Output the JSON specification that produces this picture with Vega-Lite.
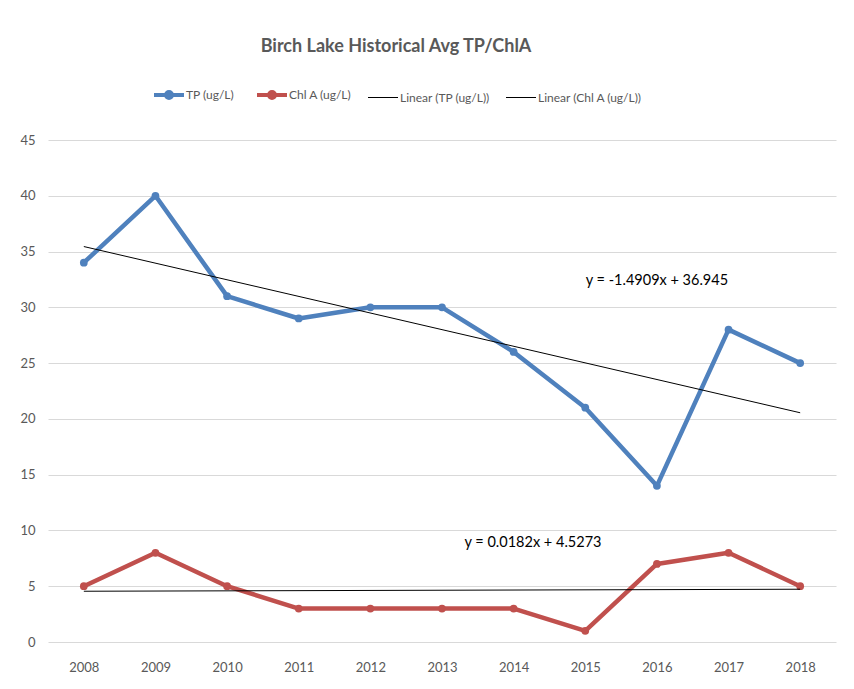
{
  "$schema": "https://vega.github.io/schema/vega-lite/v6.json",
  "width": 788,
  "height": 502,
  "autosize": "none",
  "padding": {"left": 48, "top": 140, "right": 18, "bottom": 47},
  "background": "white",
  "title": {
    "text": "Birch Lake Historical Avg TP/ChlA",
    "font": "Lato",
    "fontSize": 18,
    "fontWeight": "bold",
    "color": "#595959",
    "offset": 33,
    "dx": -46
  },
  "config": {
    "view": {"stroke": null},
    "font": "Lato"
  },
  "datasets": {
    "obs": [
      {"year": 2008, "series": "TP (ug/L)", "value": 34},
      {"year": 2009, "series": "TP (ug/L)", "value": 40},
      {"year": 2010, "series": "TP (ug/L)", "value": 31},
      {"year": 2011, "series": "TP (ug/L)", "value": 29},
      {"year": 2012, "series": "TP (ug/L)", "value": 30},
      {"year": 2013, "series": "TP (ug/L)", "value": 30},
      {"year": 2014, "series": "TP (ug/L)", "value": 26},
      {"year": 2015, "series": "TP (ug/L)", "value": 21},
      {"year": 2016, "series": "TP (ug/L)", "value": 14},
      {"year": 2017, "series": "TP (ug/L)", "value": 28},
      {"year": 2018, "series": "TP (ug/L)", "value": 25},
      {"year": 2008, "series": "Chl A (ug/L)", "value": 5},
      {"year": 2009, "series": "Chl A (ug/L)", "value": 8},
      {"year": 2010, "series": "Chl A (ug/L)", "value": 5},
      {"year": 2011, "series": "Chl A (ug/L)", "value": 3},
      {"year": 2012, "series": "Chl A (ug/L)", "value": 3},
      {"year": 2013, "series": "Chl A (ug/L)", "value": 3},
      {"year": 2014, "series": "Chl A (ug/L)", "value": 3},
      {"year": 2015, "series": "Chl A (ug/L)", "value": 1},
      {"year": 2016, "series": "Chl A (ug/L)", "value": 7},
      {"year": 2017, "series": "Chl A (ug/L)", "value": 8},
      {"year": 2018, "series": "Chl A (ug/L)", "value": 5}
    ],
    "trend": [
      {"year": 2008, "series": "Linear (TP (ug/L))", "value": 35.45},
      {"year": 2018, "series": "Linear (TP (ug/L))", "value": 20.55},
      {"year": 2008, "series": "Linear (Chl A (ug/L))", "value": 4.55},
      {"year": 2018, "series": "Linear (Chl A (ug/L))", "value": 4.73}
    ],
    "labels": [
      {"year": 2016.0, "value": 32.36, "text": "y = -1.4909x + 36.945"},
      {"year": 2014.27, "value": 8.87, "text": "y = 0.0182x + 4.5273"}
    ]
  },
  "layer": [
    {
      "data": {"name": "obs"},
      "mark": {"type": "line", "strokeWidth": 4.5, "strokeJoin": "round"},
      "encoding": {
        "x": {
          "field": "year", "type": "quantitative",
          "scale": {"domain": [2007.5, 2018.5], "nice": false, "zero": false},
          "axis": {
            "values": [2008, 2009, 2010, 2011, 2012, 2013, 2014, 2015, 2016, 2017, 2018],
            "format": "d", "title": null, "grid": false, "ticks": false, "domain": false,
            "labelFontSize": 13, "labelColor": "#595959", "labelPadding": 19,
            "labelFont": "Lato"
          }
        },
        "y": {
          "field": "value", "type": "quantitative",
          "scale": {"domain": [0, 45], "nice": false},
          "axis": {
            "values": [0, 5, 10, 15, 20, 25, 30, 35, 40, 45],
            "title": null, "grid": true, "gridColor": "#d9d9d9", "gridWidth": 1,
            "ticks": false, "domain": false,
            "labelFontSize": 13, "labelColor": "#595959", "labelPadding": 13,
            "labelFont": "Lato"
          }
        },
        "color": {
          "field": "series", "type": "nominal",
          "scale": {
            "domain": ["TP (ug/L)", "Chl A (ug/L)", "Linear (TP (ug/L))", "Linear (Chl A (ug/L))"],
            "range": ["#4f81bd", "#c0504d", "#000000", "#000000"]
          },
          "legend": {
            "orient": "none",
            "legendX": 115,
            "legendY": -51,
            "direction": "horizontal",
            "title": null,
            "labelFontSize": 12,
            "labelColor": "#595959",
            "labelFont": "Lato",
            "symbolSize": 900,
            "labelOffset": 11,
            "columnPadding": 14,
            "encode": {
              "symbols": {
                "update": {
                  "shape": {"signal": "indexof(['TP (ug/L)','Chl A (ug/L)'], datum.value) >= 0 ? 'M-1,0L1,0M0.2,0A0.2,0.2,0,1,1,-0.2,0A0.2,0.2,0,1,1,0.2,0Z' : 'M-1,0L1,0'"},
                  "strokeWidth": {"signal": "indexof(['TP (ug/L)','Chl A (ug/L)'], datum.value) >= 0 ? 4 : 1"},
                  "fill": {"signal": "indexof(['TP (ug/L)','Chl A (ug/L)'], datum.value) >= 0 ? scale('color', datum.value) : 'transparent'"},
                  "stroke": {"signal": "scale('color', datum.value)"}
                }
              }
            }
          }
        }
      }
    },
    {
      "data": {"name": "obs"},
      "mark": {"type": "circle", "size": 60, "opacity": 1},
      "encoding": {
        "x": {"field": "year", "type": "quantitative"},
        "y": {"field": "value", "type": "quantitative"},
        "color": {"field": "series", "type": "nominal", "legend": null}
      }
    },
    {
      "data": {"name": "trend"},
      "mark": {"type": "line", "strokeWidth": 1},
      "encoding": {
        "x": {"field": "year", "type": "quantitative"},
        "y": {"field": "value", "type": "quantitative"},
        "color": {"field": "series", "type": "nominal", "legend": null}
      }
    },
    {
      "data": {"name": "labels"},
      "mark": {"type": "text", "fontSize": 14.5, "color": "#000000", "font": "Lato", "align": "center", "baseline": "middle"},
      "encoding": {
        "x": {"field": "year", "type": "quantitative"},
        "y": {"field": "value", "type": "quantitative"},
        "text": {"field": "text"}
      }
    }
  ]
}
